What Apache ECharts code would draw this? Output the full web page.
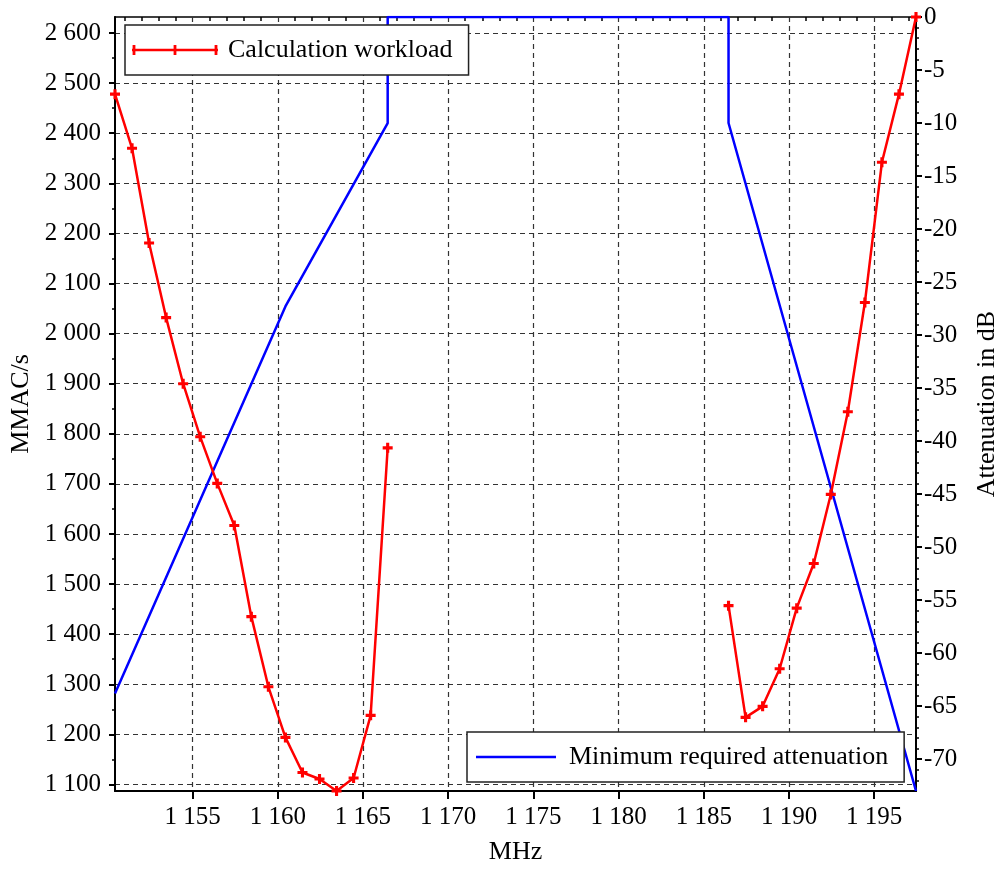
<!DOCTYPE html>
<html>
<head>
<meta charset="utf-8">
<script src="https://cdn.jsdelivr.net/npm/echarts@6/dist/echarts.min.js"></script>
<style>html,body{margin:0;padding:0;background:#fff}#c{width:1001px;height:873px}</style>
</head>
<body>
<div id="c"></div>
<script>
// ---- data ----
const freqLow = [1150.45, 1151.45, 1152.45, 1153.45, 1154.45, 1155.45, 1156.45, 1157.45, 1158.45, 1159.45, 1160.45, 1161.45, 1162.45, 1163.45, 1164.45, 1165.45, 1166.45];
const workloadLow = [2478, 2370, 2181, 2032, 1900, 1794, 1701, 1617, 1435, 1295, 1194, 1124, 1111, 1087, 1113, 1238, 1772];
const freqHigh = [1186.45, 1187.45, 1188.45, 1189.45, 1190.45, 1191.45, 1192.45, 1193.45, 1194.45, 1195.45, 1196.45, 1197.45];
const workloadHigh = [1457, 1234, 1256, 1331, 1452, 1541, 1679, 1844, 2062, 2342, 2478, 2632];
const maskFreq = [1150.45, 1160.45, 1166.45, 1166.45, 1186.45, 1186.45, 1197.45];
const maskAtt = [-63.8, -27.3, -10, 0, 0, -10, -73];
const xTicks = [1155, 1160, 1165, 1170, 1175, 1180, 1185, 1190, 1195];
const yLeftTicks = [1100, 1200, 1300, 1400, 1500, 1600, 1700, 1800, 1900, 2000, 2100, 2200, 2300, 2400, 2500, 2600];
const yRightTicks = [0, -5, -10, -15, -20, -25, -30, -35, -40, -45, -50, -55, -60, -65, -70];
const seriesNames = ['Calculation workload', 'Minimum required attenuation'];
const axisNames = { x: 'MHz', left: 'MMAC/s', right: 'Attenuation in dB' };

// derived minor tick positions
const xMinor = [];
for (let v = 1151; v <= 1197; v++) if (v % 5 !== 0) xMinor.push(v);
const yLeftMinor = yLeftTicks.slice(0, -1).map(v => v + 50);
const yRightMinor = [];
for (let v = -1; v >= -72; v--) if (v % 5 !== 0) yRightMinor.push(v);

const FONT = "'Liberation Serif', 'Times New Roman', serif";
const fmt = v => String(v).replace(/\B(?=(\d{3})+(?!\d))/g, ' ');
const pair = (xs, ys) => xs.map((x, i) => [x, ys[i]]);

const xMin = 1150.45, xMax = 1197.45, lMin = 1087, lMax = 2632, rMin = -73, rMax = 0;
const plus = 'path://M-1.4,-4.5H1.4V-1.4H4.5V1.4H1.4V4.5H-1.4V1.4H-4.5V-1.4H-1.4Z';
const redIcon = 'path://M0,3.8H86V6.2H0Z M0.6,0H3.4V10H0.6Z M41.6,0H44.4V10H41.6Z M82.6,0H85.4V10H82.6Z';
const blueIcon = 'path://M0,0H80V2.4H0Z';

const gridLine = { show: true, lineStyle: { color: '#333', type: [5, 4], width: 1.2 } };

const chart = echarts.init(document.getElementById('c'));
chart.setOption({
  animation: false,
  backgroundColor: '#fff',
  textStyle: { fontFamily: FONT },
  grid: { left: 115, right: 85, top: 17, bottom: 82, containLabel: false, outerBoundsMode: 'none',
          show: true, borderColor: '#000', borderWidth: 1.5 },
  legend: [
    { data: [{ name: seriesNames[0], icon: redIcon }], left: 125, top: 25, orient: 'horizontal',
      itemWidth: 86, itemHeight: 10, padding: [12, 16, 12, 7],
      backgroundColor: '#fff', borderColor: '#222', borderWidth: 1.5,
      textStyle: { fontFamily: FONT, fontSize: 26, color: '#000', padding: [0, 0, 0, 5] },
      itemStyle: { borderWidth: 0 } },
    { data: [{ name: seriesNames[1], icon: blueIcon }], left: 467, top: 732, orient: 'horizontal',
      itemWidth: 80, itemHeight: 2.4, padding: [12, 16, 12, 9],
      backgroundColor: '#fff', borderColor: '#222', borderWidth: 1.5,
      textStyle: { fontFamily: FONT, fontSize: 26, color: '#000', padding: [0, 0, 0, 8] },
      itemStyle: { borderWidth: 0 } }
  ],
  xAxis: [
    { type: 'value', min: xMin, max: xMax, position: 'bottom',
      name: axisNames.x, nameLocation: 'middle', nameGap: 48,
      nameTextStyle: { fontFamily: FONT, fontSize: 26, color: '#000' },
      axisLine: { show: true, onZero: false, lineStyle: { color: '#000', width: 2 } },
      axisTick: { show: true, customValues: xTicks, length: 8, lineStyle: { color: '#000', width: 2 } },
      axisLabel: { show: true, customValues: xTicks, formatter: fmt, margin: 14,
                   fontFamily: FONT, fontSize: 25, color: '#000' },
      splitLine: gridLine },
    { type: 'value', min: xMin, max: xMax, position: 'bottom',
      axisLine: { show: false }, axisLabel: { show: false }, splitLine: { show: false },
      axisTick: { show: true, customValues: xMinor, length: 4, lineStyle: { color: '#000', width: 1.5 } } }
  ],
  yAxis: [
    { type: 'value', min: lMin, max: lMax, position: 'left',
      name: axisNames.left, nameLocation: 'middle', nameGap: 80,
      nameTextStyle: { fontFamily: FONT, fontSize: 26, color: '#000' },
      axisLine: { show: true, onZero: false, lineStyle: { color: '#000', width: 2 } },
      axisTick: { show: true, customValues: yLeftTicks, length: 6, lineStyle: { color: '#000', width: 2 } },
      axisLabel: { show: true, customValues: yLeftTicks, formatter: fmt, margin: 14,
                   fontFamily: FONT, fontSize: 25, color: '#000' },
      splitLine: gridLine },
    { type: 'value', min: rMin, max: rMax, position: 'right',
      name: axisNames.right, nameLocation: 'middle', nameGap: 58, nameRotate: 90,
      nameTextStyle: { fontFamily: FONT, fontSize: 26, color: '#000' },
      axisLine: { show: true, onZero: false, lineStyle: { color: '#000', width: 2 } },
      axisTick: { show: true, customValues: yRightTicks, length: 6, lineStyle: { color: '#000', width: 2 } },
      axisLabel: { show: true, customValues: yRightTicks, margin: 8,
                   fontFamily: FONT, fontSize: 25, color: '#000' },
      splitLine: { show: false } },
    { type: 'value', min: lMin, max: lMax, position: 'left',
      axisLine: { show: false }, axisLabel: { show: false }, splitLine: { show: false },
      axisTick: { show: true, customValues: yLeftMinor, length: 3, lineStyle: { color: '#000', width: 1.5 } } },
    { type: 'value', min: rMin, max: rMax, position: 'right',
      axisLine: { show: false }, axisLabel: { show: false }, splitLine: { show: false },
      axisTick: { show: true, customValues: yRightMinor, length: 3, lineStyle: { color: '#000', width: 1.5 } } }
  ],
  series: [
    { name: seriesNames[0], type: 'line', xAxisIndex: 0, yAxisIndex: 0, data: pair(freqLow, workloadLow),
      symbol: plus, symbolSize: 10, showSymbol: true, color: '#ff0000',
      lineStyle: { color: '#ff0000', width: 2.5 }, itemStyle: { color: '#ff0000' }, z: 4 },
    { name: seriesNames[0], type: 'line', xAxisIndex: 0, yAxisIndex: 0, data: pair(freqHigh, workloadHigh),
      symbol: plus, symbolSize: 10, showSymbol: true, color: '#ff0000',
      lineStyle: { color: '#ff0000', width: 2.5 }, itemStyle: { color: '#ff0000' }, z: 4 },
    { name: seriesNames[1], type: 'line', xAxisIndex: 0, yAxisIndex: 1, data: pair(maskFreq, maskAtt),
      symbol: 'none', color: '#0000ff', lineStyle: { color: '#0000ff', width: 2.5 }, z: 3 }
  ]
});
</script>
</body>
</html>
